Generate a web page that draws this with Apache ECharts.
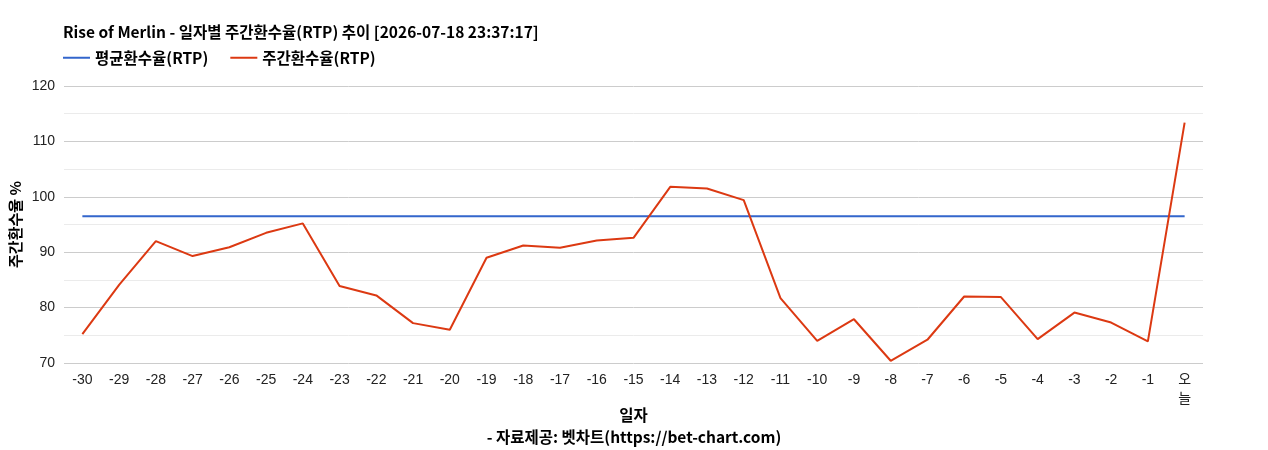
<!DOCTYPE html>
<html>
<head>
<meta charset="utf-8">
<script src="https://cdn.jsdelivr.net/npm/echarts@6/dist/echarts.min.js"></script>
<style>
  html, body { margin: 0; padding: 0; background: #fff; }
  #chart { width: 1268px; height: 450px; }
</style>
</head>
<body>
<div id="chart"></div>
<script>
const days = ['-30','-29','-28','-27','-26','-25','-24','-23','-22','-21','-20','-19','-18','-17','-16','-15',
  '-14','-13','-12','-11','-10','-9','-8','-7','-6','-5','-4','-3','-2','-1','오늘'];
const weeklyRtp = [75.2, 84.1, 92.0, 89.3, 90.9, 93.5, 95.2, 83.9, 82.2, 77.2, 76.0, 89.0, 91.2, 90.8, 92.1, 92.6,
  101.8, 101.5, 99.4, 81.7, 74.0, 77.9, 70.4, 74.2, 82.0, 81.9, 74.3, 79.1, 77.3, 73.9, 113.4];
const avgRtp = days.map(() => 96.5);
const yTicks = [70, 120, 10];

const font = '"Noto Sans CJK KR", "Noto Sans", sans-serif';
const numFont = '"Liberation Sans", Arial, "Noto Sans CJK KR", sans-serif';
let chart = echarts.init(document.getElementById('chart'));
chart.setOption({
  animation: false,
  color: ['#3366cc', '#dc3912'],
  title: [{
    text: 'Rise of Merlin - 일자별 주간환수율(RTP) 추이 [2026-07-18 23:37:17]',
    left: 58, top: 19,
    textStyle: { fontFamily: font, fontSize: 15.5, fontWeight: 'bold', color: '#000' }
  }, {
    text: '- 자료제공: 벳차트(https://bet-chart.com)',
    left: 'center', top: 424,
    textStyle: { fontFamily: font, fontSize: 15.5, fontWeight: 'bold', color: '#000' }
  }],
  legend: {
    left: 58, top: 45,
    icon: 'rect', itemWidth: 27, itemHeight: 2, itemGap: 22,
    textStyle: { fontFamily: font, fontSize: 15.5, fontWeight: 'bold', color: '#000' },
    data: ['평균환수율(RTP)', '주간환수율(RTP)']
  },
  grid: { left: 64, right: 65, top: 86, bottom: 87, outerBoundsMode: 'none' },
  xAxis: {
    type: 'category',
    data: days,
    boundaryGap: true,
    name: '일자',
    nameLocation: 'middle',
    nameGap: 44,
    nameMoveOverlap: false,
    nameTextStyle: { fontFamily: font, fontSize: 15.5, fontWeight: 'bold', color: '#000' },
    axisLine: { show: false },
    axisTick: { show: false },
    axisLabel: {
      interval: 0, margin: 8,
      fontFamily: numFont, fontSize: 14, color: '#222', lineHeight: 19,
      formatter: v => v === '오늘' ? '오\n늘' : v
    }
  },
  yAxis: {
    type: 'value',
    min: yTicks[0], max: yTicks[1], interval: yTicks[2],
    name: '주간환수율 %',
    nameLocation: 'middle',
    nameGap: 41,
    nameRotate: 90,
    nameMoveOverlap: false,
    nameTextStyle: { fontFamily: font, fontSize: 15, fontWeight: 'bold', color: '#000' },
    axisLine: { show: false },
    axisTick: { show: false },
    axisLabel: { fontFamily: numFont, fontSize: 14, color: '#222', margin: 9 },
    splitLine: { lineStyle: { color: '#cccccc', width: 1 } },
    minorTick: { show: false, splitNumber: 2 },
    minorSplitLine: { show: true, lineStyle: { color: '#ebebeb', width: 1 } }
  },
  series: [{
    name: '평균환수율(RTP)',
    type: 'line',
    data: avgRtp,
    symbol: 'none',
    lineStyle: { width: 2 }
  }, {
    name: '주간환수율(RTP)',
    type: 'line',
    data: weeklyRtp,
    symbol: 'none',
    lineStyle: { width: 2 }
  }]
});
</script>
</body>
</html>
